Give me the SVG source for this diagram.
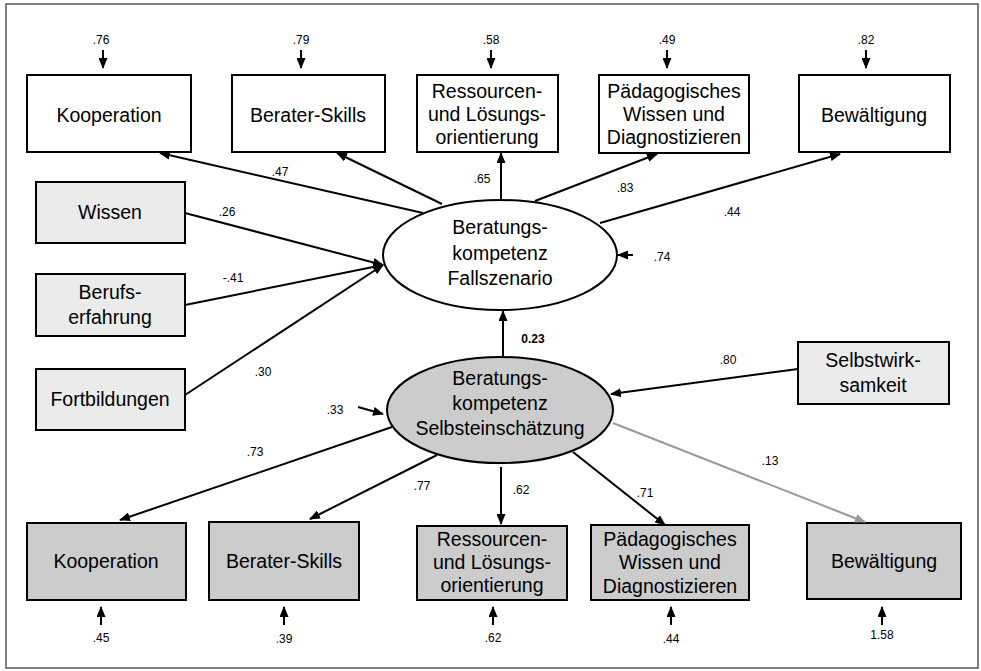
<svg xmlns="http://www.w3.org/2000/svg" width="981" height="671" viewBox="0 0 981 671">
<defs>
<marker id="ah" markerUnits="userSpaceOnUse" markerWidth="11" markerHeight="9" refX="10" refY="4.5" orient="auto"><path d="M0,0 L11,4.5 L0,9 Z" fill="#000"/></marker>
<marker id="ahg" markerUnits="userSpaceOnUse" markerWidth="11" markerHeight="9" refX="10" refY="4.5" orient="auto"><path d="M0,0 L11,4.5 L0,9 Z" fill="#999"/></marker>
<style>
.box{stroke:#000;stroke-width:2}
.w{fill:#fff}.l{fill:#ebebeb}.g{fill:#cccccc}
.t{font-family:"Liberation Sans",Arial,sans-serif;font-size:19.5px;text-anchor:middle;fill:#000}
.n{font-family:"Liberation Sans",Arial,sans-serif;font-size:12px;text-anchor:middle;fill:#000}
.b{font-weight:bold}
.c{stroke:#000;stroke-width:2;fill:none;marker-end:url(#ah)}
.cg{stroke:#999;stroke-width:2;fill:none;marker-end:url(#ahg)}
</style>
</defs>
<rect x="6" y="4" width="972" height="664" fill="#fff" stroke="#555" stroke-width="1.5"/>

<g id="top_kooperation"><rect class="box w" x="27" y="75" width="164" height="77"/><text class="t" x="109" y="122">Kooperation</text></g>
<g id="top_berater"><rect class="box w" x="232" y="75" width="153" height="77"/><text class="t" x="308" y="122">Berater-Skills</text></g>
<g id="top_ressourcen"><rect class="box w" x="417" y="75" width="141" height="77"/><text class="t" x="487" y="98">Ressourcen-</text><text class="t" x="487" y="121">und Lösungs-</text><text class="t" x="487" y="144">orientierung</text></g>
<g id="top_paed"><rect class="box w" x="599" y="75" width="150" height="78"/><text class="t" x="674" y="98">Pädagogisches</text><text class="t" x="674" y="121">Wissen und</text><text class="t" x="674" y="144">Diagnostizieren</text></g>
<g id="top_bewaeltigung"><rect class="box w" x="799" y="75" width="151" height="77"/><text class="t" x="874" y="122">Bewältigung</text></g>

<g id="wissen"><rect class="box l" x="36" y="182" width="149" height="61"/><text class="t" x="110" y="219">Wissen</text></g>
<g id="berufserfahrung"><rect class="box l" x="36" y="274" width="149" height="62"/><text class="t" x="110" y="299">Berufs-</text><text class="t" x="110" y="324">erfahrung</text></g>
<g id="fortbildungen"><rect class="box l" x="36" y="369" width="149" height="61"/><text class="t" x="110" y="406">Fortbildungen</text></g>

<g id="fallszenario"><ellipse cx="500" cy="255" rx="117" ry="55" fill="#fff" stroke="#000" stroke-width="2"/><text class="t" x="500" y="234">Beratungs-</text><text class="t" x="500" y="260">kompetenz</text><text class="t" x="500" y="285">Fallszenario</text></g>
<g id="selbsteinschaetzung"><ellipse cx="500" cy="410" rx="113" ry="53" fill="#cccccc" stroke="#000" stroke-width="2"/><text class="t" x="500" y="385">Beratungs-</text><text class="t" x="500" y="410">kompetenz</text><text class="t" x="500" y="435">Selbsteinschätzung</text></g>
<g id="selbstwirksamkeit"><rect class="box l" x="798" y="342" width="151" height="62"/><text class="t" x="873" y="367">Selbstwirk-</text><text class="t" x="873" y="392">samkeit</text></g>

<g id="bot_kooperation"><rect class="box g" x="27" y="523" width="159" height="77"/><text class="t" x="106" y="568">Kooperation</text></g>
<g id="bot_berater"><rect class="box g" x="209" y="522" width="150" height="78"/><text class="t" x="284" y="568">Berater-Skills</text></g>
<g id="bot_ressourcen"><rect class="box g" x="417" y="526" width="150" height="74"/><text class="t" x="492" y="546">Ressourcen-</text><text class="t" x="492" y="569">und Lösungs-</text><text class="t" x="492" y="592">orientierung</text></g>
<g id="bot_paed"><rect class="box g" x="591" y="525" width="158" height="75"/><text class="t" x="670" y="546">Pädagogisches</text><text class="t" x="670" y="569">Wissen und</text><text class="t" x="670" y="593">Diagnostizieren</text></g>
<g id="bot_bewaeltigung"><rect class="box g" x="807" y="523" width="154" height="76"/><text class="t" x="884" y="568">Bewältigung</text></g>

<g id="connectors">
<line class="c" x1="103" y1="50" x2="103" y2="68"/>
<line class="c" x1="301" y1="50" x2="301" y2="68"/>
<line class="c" x1="491" y1="50" x2="491" y2="68"/>
<line class="c" x1="667" y1="50" x2="667" y2="68"/>
<line class="c" x1="866" y1="50" x2="866" y2="68"/>

<line class="c" x1="423" y1="213" x2="160" y2="153"/>
<line class="c" x1="442" y1="204" x2="337" y2="153"/>
<line class="c" x1="501" y1="200" x2="501" y2="153"/>
<line class="c" x1="535" y1="201" x2="657" y2="154"/>
<line class="c" x1="600" y1="223" x2="840" y2="154"/>

<line class="c" x1="185" y1="213" x2="383" y2="265"/>
<line class="c" x1="185" y1="305" x2="383" y2="265"/>
<line class="c" x1="185" y1="395" x2="383" y2="265"/>

<line class="c" x1="633" y1="255" x2="618" y2="255"/>
<line class="c" x1="503" y1="356" x2="503" y2="311"/>
<line class="c" x1="798" y1="369" x2="611" y2="394"/>
<line class="c" x1="358" y1="407" x2="383" y2="414"/>

<line class="c" x1="392" y1="427" x2="120" y2="520"/>
<line class="c" x1="437" y1="455" x2="310" y2="519"/>
<line class="c" x1="501" y1="467" x2="501" y2="524"/>
<line class="c" x1="573" y1="452" x2="665" y2="525"/>
<line class="cg" x1="613" y1="423" x2="865" y2="522"/>

<line class="c" x1="101" y1="625" x2="101" y2="607"/>
<line class="c" x1="284" y1="625" x2="284" y2="607"/>
<line class="c" x1="493" y1="625" x2="493" y2="607"/>
<line class="c" x1="671" y1="625" x2="671" y2="607"/>
<line class="c" x1="882" y1="625" x2="882" y2="607"/>
</g>

<g id="labels">
<text class="n" x="101" y="44">.76</text>
<text class="n" x="301" y="44">.79</text>
<text class="n" x="491" y="44">.58</text>
<text class="n" x="667" y="44">.49</text>
<text class="n" x="866" y="44">.82</text>
<text class="n" x="280" y="176">.47</text>
<text class="n" x="482" y="183">.65</text>
<text class="n" x="625" y="192">.83</text>
<text class="n" x="732" y="216">.44</text>
<text class="n" x="227" y="216">.26</text>
<text class="n" x="233" y="282">-.41</text>
<text class="n" x="263" y="376">.30</text>
<text class="n" x="662" y="261">.74</text>
<text class="n b" x="533" y="343">0.23</text>
<text class="n" x="728" y="364">.80</text>
<text class="n" x="335" y="414">.33</text>
<text class="n" x="255" y="456">.73</text>
<text class="n" x="422" y="490">.77</text>
<text class="n" x="521" y="494">.62</text>
<text class="n" x="645" y="497">.71</text>
<text class="n" x="770" y="465">.13</text>
<text class="n" x="101" y="642">.45</text>
<text class="n" x="284" y="643">.39</text>
<text class="n" x="493" y="642">.62</text>
<text class="n" x="671" y="643">.44</text>
<text class="n" x="882" y="639">1.58</text>
</g>
</svg>
